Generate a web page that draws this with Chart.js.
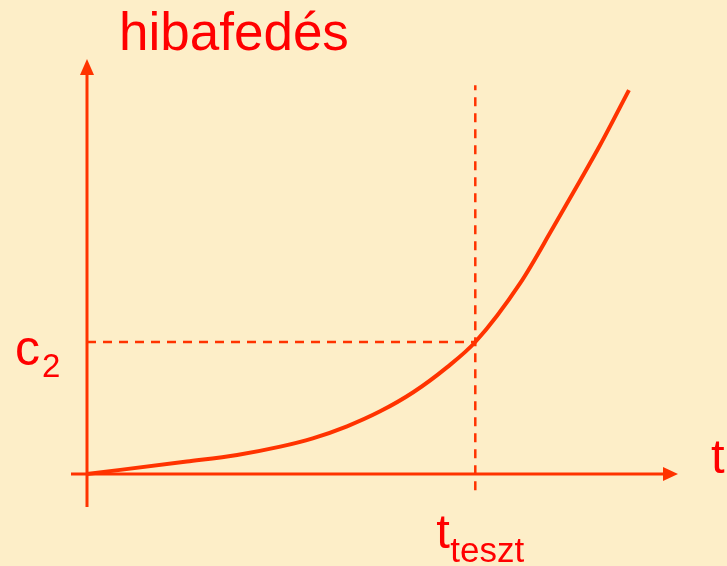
<!DOCTYPE html>
<html>
<head>
<meta charset="utf-8">
<script src="https://cdn.jsdelivr.net/npm/chart.js@4/dist/chart.umd.min.js"></script>
<style>
html,body{margin:0;padding:0;background:#FDEEC8;}
#wrap{width:727px;height:566px;position:relative;}
</style>
</head>
<body>
<div id="wrap"><canvas id="c" width="727" height="566"></canvas></div>
<script>
// Data (t in arbitrary time units, coverage in arbitrary units)
const curveT = [0, 1.69, 2.54, 3.27, 3.82, 4.40, 4.96, 5.52, 6.09, 6.57, 7.33, 7.88, 8.34, 8.68, 9.17];
const curveCov = [0, 0.30, 0.46, 0.66, 0.86, 1.15, 1.51, 1.97, 2.57, 3.18, 4.60, 5.92, 7.06, 7.92, 9.25];
const tTeszt = 6.57;
const c2 = 3.18;
const vLineRange = [-0.39, 9.37];
const axisLabels = { y: 'hibafedés', x: 't', c: 'c', cSub: '2', tt: 't', ttSub: 'teszt' };

const LINE = '#FF3300';
const TEXT = '#FF0000';
const FONT = '"Liberation Sans", Arial, sans-serif';

const curveData = curveT.map((t, i) => ({ x: t, y: curveCov[i] }));
const vData = vLineRange.map(v => ({ x: tTeszt, y: v }));
const hData = [{ x: 0, y: c2 }, { x: tTeszt, y: c2 }];

const decor = {
  id: 'decor',
  beforeDatasetsDraw(chart) {
    const ctx = chart.ctx, xs = chart.scales.x, ys = chart.scales.y;
    const x0 = xs.getPixelForValue(0), y0 = ys.getPixelForValue(0);
    const xEnd = xs.getPixelForValue(10), yTop = ys.getPixelForValue(10);
    ctx.save();
    ctx.strokeStyle = LINE; ctx.fillStyle = LINE; ctx.lineWidth = 3;
    // x axis
    ctx.beginPath(); ctx.moveTo(x0 - 16, y0); ctx.lineTo(xEnd - 14, y0); ctx.stroke();
    ctx.beginPath(); ctx.moveTo(xEnd, y0); ctx.lineTo(xEnd - 15, y0 - 7); ctx.lineTo(xEnd - 15, y0 + 7); ctx.closePath(); ctx.fill();
    // y axis
    ctx.beginPath(); ctx.moveTo(x0, y0 + 33); ctx.lineTo(x0, yTop + 14); ctx.stroke();
    ctx.beginPath(); ctx.moveTo(x0, yTop); ctx.lineTo(x0 - 7, yTop + 16); ctx.lineTo(x0 + 7, yTop + 16); ctx.closePath(); ctx.fill();
    ctx.restore();
  },
  afterDraw(chart) {
    const ctx = chart.ctx, xs = chart.scales.x, ys = chart.scales.y;
    const x0 = xs.getPixelForValue(0), y0 = ys.getPixelForValue(0);
    const xEnd = xs.getPixelForValue(10);
    const xt = xs.getPixelForValue(tTeszt), yc = ys.getPixelForValue(c2);
    ctx.save();
    ctx.fillStyle = TEXT; ctx.textBaseline = 'alphabetic'; ctx.textAlign = 'left';
    ctx.font = '53px ' + FONT;
    ctx.fillText(axisLabels.y, x0 + 32, 50);
    ctx.font = '50px ' + FONT;
    ctx.fillText(axisLabels.c, 15, yc + 23);
    ctx.font = '33px ' + FONT;
    ctx.fillText(axisLabels.cSub, 42, yc + 35);
    ctx.font = '49px ' + FONT;
    ctx.fillText(axisLabels.x, xEnd + 33, y0 - 1);
    ctx.fillText(axisLabels.tt, xt - 39, y0 + 74);
    ctx.font = '35px ' + FONT;
    ctx.fillText(axisLabels.ttSub, xt - 25, y0 + 88);
    ctx.restore();
  }
};

new Chart(document.getElementById('c'), {
  type: 'scatter',
  data: {
    datasets: [
      { data: vData, showLine: true, borderColor: LINE, borderWidth: 2.5, borderDash: [9, 7], pointRadius: 0, clip: false },
      { data: hData, showLine: true, borderColor: LINE, borderWidth: 2.5, borderDash: [9, 7], pointRadius: 0, clip: false },
      { data: curveData, showLine: true, borderColor: LINE, borderWidth: 4, pointRadius: 0, cubicInterpolationMode: 'monotone', clip: false, borderCapStyle: 'butt' }
    ]
  },
  options: {
    responsive: false,
    animation: false,
    layout: { padding: { left: 87, right: 49, top: 59, bottom: 92 } },
    plugins: { legend: { display: false }, tooltip: { enabled: false } },
    scales: {
      x: { type: 'linear', min: 0, max: 10, display: false },
      y: { type: 'linear', min: 0, max: 10, display: false }
    }
  },
  plugins: [decor]
});
</script>
</body>
</html>
